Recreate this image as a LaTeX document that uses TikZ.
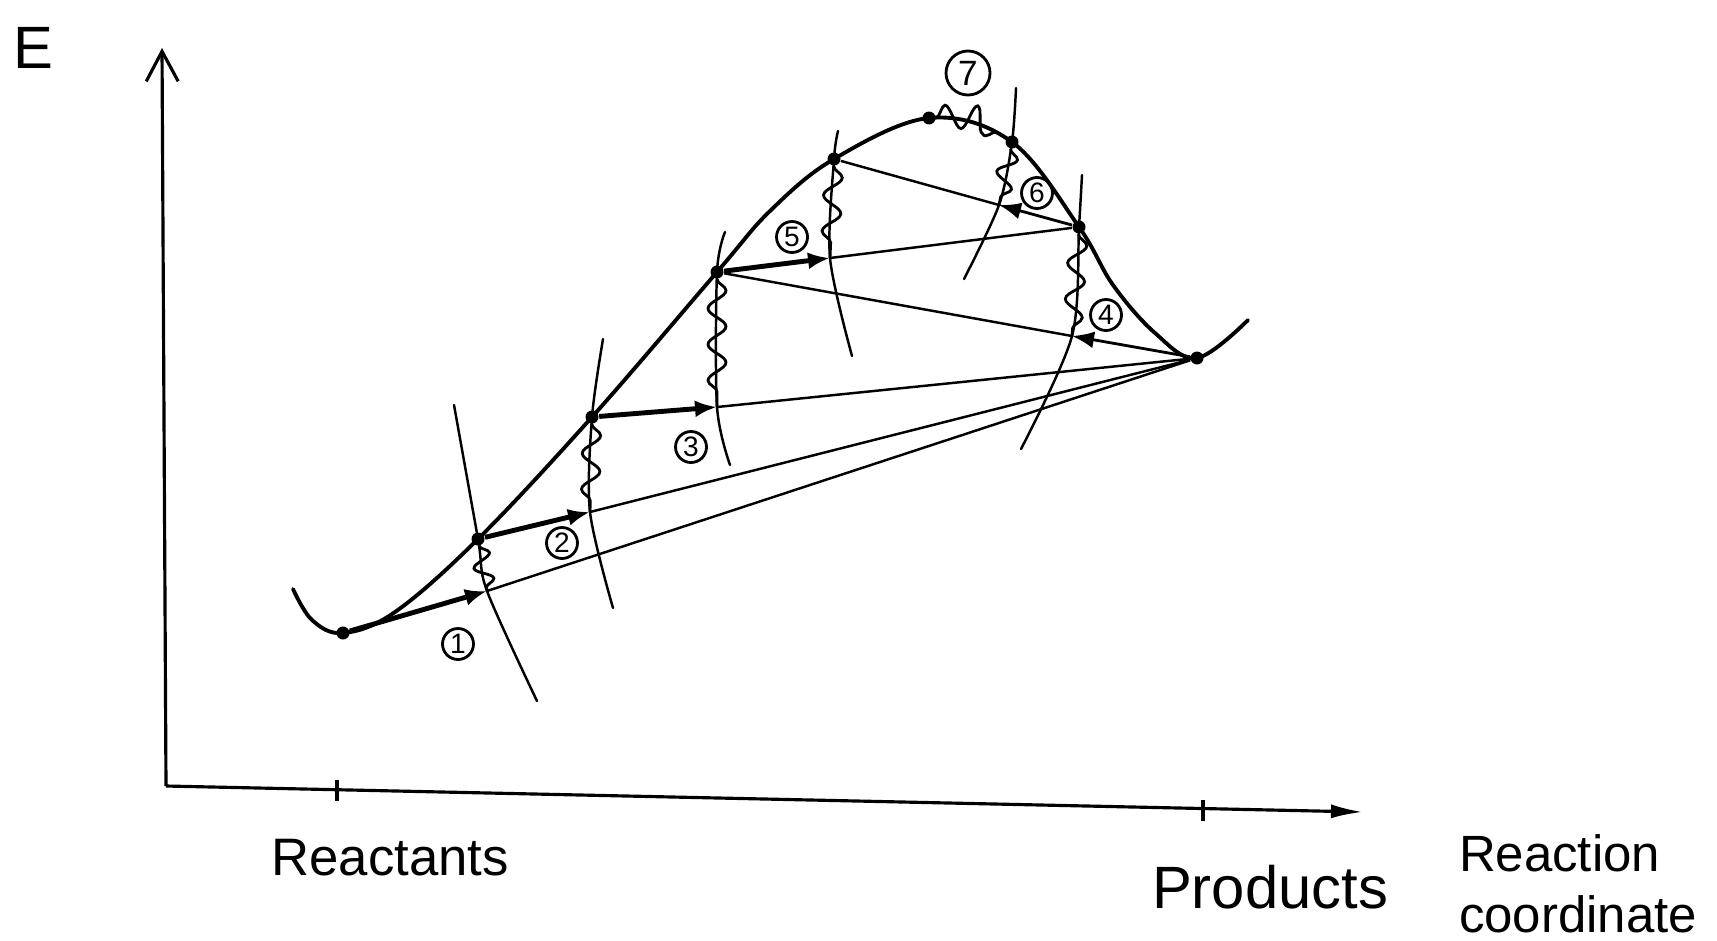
\documentclass[tikz,border=0pt]{standalone}
\usepackage{fontspec}
\setmainfont{Liberation Sans}
\usetikzlibrary{arrows.meta, decorations.pathmorphing}

\tikzset{
  curve/.style={line width=1.1pt, line cap=round},
  divider/.style={line width=0.7pt, line cap=round},
  band/.style={line width=0.7pt},
  push/.style={line width=1.4pt, -{Latex[length=2.2mm,width=1.7mm]}},
  thinpush/.style={line width=0.8pt, -{Latex[length=2.2mm,width=1.7mm]}},
  wiggle/.style={line width=0.8pt, decorate,
    decoration={snake, segment length=3.6mm, amplitude=0.9mm}},
  dot/.style={circle, fill, inner sep=0pt, minimum size=1.3mm},
  num/.style={circle, draw, line width=0.8pt, inner sep=0pt,
    minimum size=3.1mm, font=\fontsize{8}{9}\selectfont},
  axis/.style={line width=0.9pt},
  lbl/.style={font=\fontsize{15}{18}\selectfont}
}

\begin{document}
\begin{tikzpicture}[x=0.1mm, y=-0.1mm]
  \useasboundingbox (0,0) rectangle (1717,940);
  % axes
  \coordinate (origin) at (166,786);
  \coordinate (ytip) at (162,48);
  \coordinate (xtip) at (1363,812);
  \draw[axis, -{Straight Barb[length=3mm,width=3.2mm]}] (origin) -- (ytip);
  \draw[axis, -{Latex[length=3.2mm,width=1.4mm]}] (origin) -- (xtip);
  \draw[axis] (337,780) -- (337,801);
  \draw[axis] (1203,800) -- (1203,821);
  \node[font=\fontsize{17}{20}\selectfont] (E) at (33,48) {E};
  \node[lbl] (reac) at (390,858) {Reactants};
  \node[font=\fontsize{17}{20}\selectfont] (prod) at (1270,887) {Products};
  \node[align=left, font=\fontsize{14.5}{17.4}\selectfont] (rc) at (1578,884)
    {Reaction\\coordinate};
  % images along the path
  \node[dot] (R) at (343,633) {};
  \node[dot] (P1) at (478,539) {};
  \node[dot] (P2) at (592,417) {};
  \node[dot] (P3) at (717,272) {};
  \node[dot] (P5) at (834,159) {};
  \node[dot] (T) at (929,118) {};
  \node[dot] (P6) at (1012,142) {};
  \node[dot] (P4) at (1079,227) {};
  \node[dot] (Prod) at (1197,358) {};
  \coordinate (A1) at (487,591);
  \coordinate (A2) at (590,512);
  \coordinate (A3) at (717,407);
  \coordinate (A4) at (1072,336);
  \coordinate (A5) at (830,258);
  \coordinate (A6) at (999,205);
  % energy profile
  \draw[curve] plot[smooth, tension=0.6] coordinates {(293,589) (312,620)
    (R.center) (395,612) (P1.center) (P2.center) (P3.center) (770,211)
    (P5.center) (T.center) (P6.center) (P4.center) (1113,285) (1155,333)
    (Prod.center) (1248,320)};
  % dividing surfaces
  \draw[divider] plot[smooth] coordinates {(454,405) (P1.center) (A1) (537,701)};
  \draw[divider] plot[smooth] coordinates {(603,339) (P2.center) (A2) (613,608)};
  \draw[divider] plot[smooth] coordinates {(725,232) (P3.center) (A3) (730,465)};
  \draw[divider] plot[smooth] coordinates {(838,131) (P5.center) (A5) (852,356)};
  \draw[divider] plot[smooth] coordinates {(1016,88) (P6.center) (A6) (964,279)};
  \draw[divider] plot[smooth] coordinates {(1082,175) (P4.center) (A4) (1021,449)};
  % steps
  \draw[push] (R) -- (A1);
  \draw[band] (A1) -- (Prod);
  \draw[push] (P1) -- (A2);
  \draw[band] (A2) -- (Prod);
  \draw[push] (P2) -- (A3);
  \draw[band] (A3) -- (Prod);
  \draw[thinpush] (Prod) -- (A4);
  \draw[band] (A4) -- (P3);
  \draw[push] (P3) -- (A5);
  \draw[band] (A5) -- (P4);
  \draw[thinpush] (P4) -- (A6);
  \draw[band] (A6) -- (P5);
  % relaxations
  \draw[wiggle, decoration={segment length=2.6mm}] (P1) -- (A1);
  \draw[wiggle] (P2) -- (A2);
  \draw[wiggle] (P3) -- (A3);
  \draw[wiggle] (P5) -- (A5);
  \draw[wiggle, decoration={segment length=3mm}] (P6) -- (A6);
  \draw[wiggle] (P4) -- (A4);
  \draw[wiggle, decoration={amplitude=1.2mm, segment length=3mm}]
    (T) .. controls (970,116) .. (P6);
  % step numbers
  \node[num] (n1) at (458,644) {1};
  \node[num] (n2) at (562,543) {2};
  \node[num] (n3) at (691,447) {3};
  \node[num] (n4) at (1106,315) {4};
  \node[num] (n5) at (792,237) {5};
  \node[num] (n6) at (1037,193) {6};
  \node[num, minimum size=4.4mm, font=\fontsize{10}{12}\selectfont] (n7)
    at (968,73) {7};
\end{tikzpicture}
\end{document}
